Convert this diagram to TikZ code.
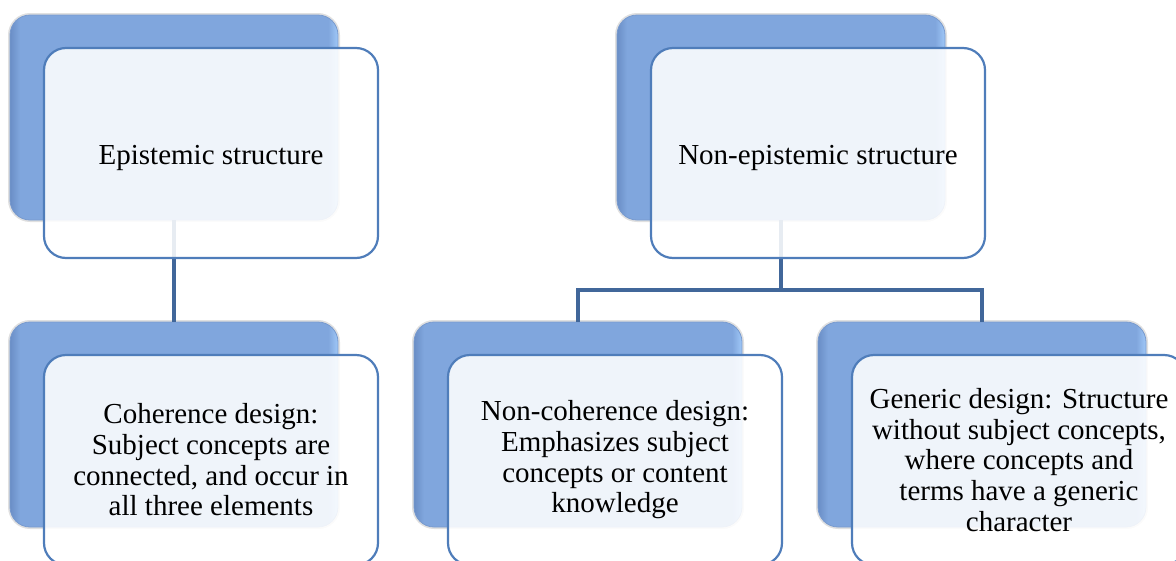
\documentclass[tikz,border=0pt]{standalone}
\usepackage{fontspec}
\setmainfont{Liberation Serif}
\definecolor{bkL}{RGB}{106,142,198}
\definecolor{bkM}{RGB}{128,166,221}
\definecolor{bkR}{RGB}{160,200,248}
\definecolor{bkEdge}{RGB}{120,154,206}
\definecolor{frontline}{RGB}{79,125,186}
\definecolor{linkc}{RGB}{65,103,154}
\pgfdeclarehorizontalshading{bevel}{100bp}{color(0bp)=(bkL); color(25bp)=(bkL); color(26.5bp)=(bkM); color(73.5bp)=(bkM); color(75bp)=(bkR); color(100bp)=(bkR)}
\begin{document}
\begin{tikzpicture}[x=1pt,y=-1pt,
  backbox/.style={rounded corners=20pt, minimum width=328pt, minimum height=205pt,
    inner sep=0pt, draw=bkEdge, line width=0.8pt, shading=bevel,
    preaction={draw=black, draw opacity=0.12, line width=4pt}},
  frontbox/.style={rounded corners=22pt, minimum width=334pt, minimum height=210pt,
    inner sep=0pt, draw=frontline, line width=2.2pt, fill=white, fill opacity=0.88,
    text opacity=1, align=center, font=\fontsize{29}{30.7}\selectfont},
  toptext/.style={text height=28pt, text depth=6pt},
  link/.style={draw=linkc, line width=4pt}]
\useasboundingbox (0,0) rectangle (1176,560);
\clip (0,0) rectangle (1176,560);
% back boxes
\node[backbox] (b1) at (174,117.5) {};
\node[backbox] (b2) at (781,117.5) {};
\node[backbox] (b3) at (174,424.5) {};
\node[backbox] (b4) at (578,424.5) {};
\node[backbox] (b5) at (982,424.5) {};
% connectors
\coordinate (j) at (781,290);
\draw[link] (b1.south) -- (b3.north);
\draw[link] (b2.south) -- (j);
\draw[link] (j) -| (b4.north);
\draw[link] (j) -| (b5.north);
% front boxes
\node[frontbox, toptext] (f1) at (211,153) {Epistemic structure};
\node[frontbox, toptext] (f2) at (818,153) {Non-epistemic structure};
\node[frontbox] (f3) at (211,460) {Coherence design:\\Subject concepts are\\connected, and occur in\\all three elements};
\node[frontbox] (f4) at (615,460) {Non-coherence design:\\Emphasizes subject\\concepts or content\\knowledge};
\node[frontbox] (f5) at (1019,460) {Generic design: Structure\\without subject concepts,\\where concepts and\\terms have a generic\\character};
\end{tikzpicture}
\end{document}
